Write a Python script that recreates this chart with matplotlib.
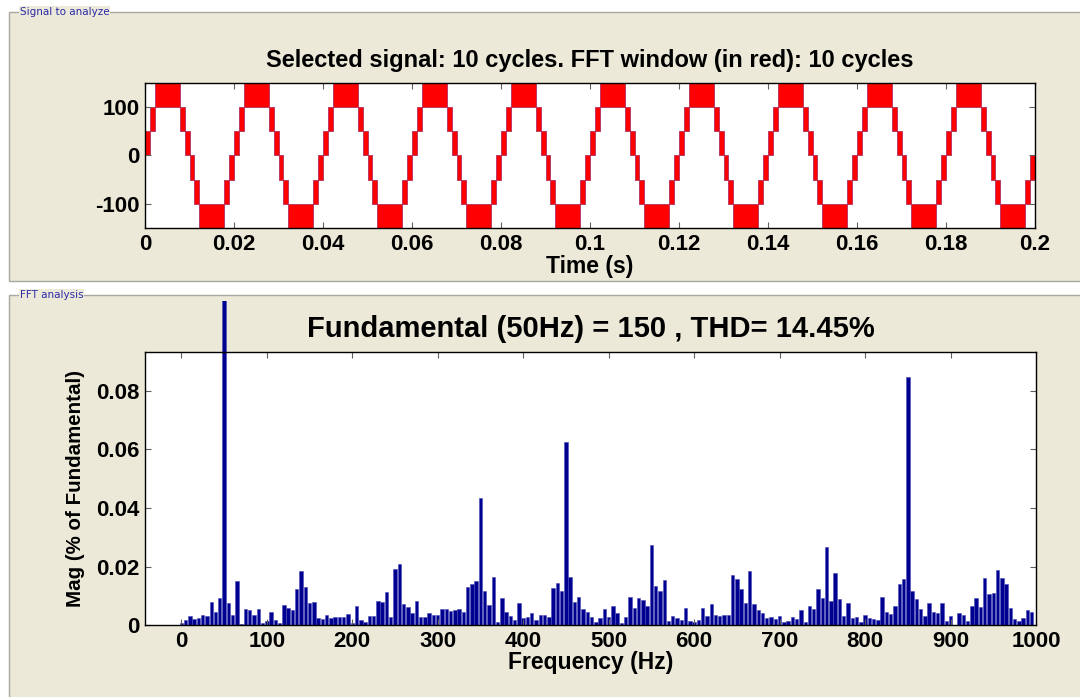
import matplotlib
matplotlib.use('Agg')
import matplotlib.pyplot as plt
from matplotlib.patches import Rectangle
import numpy as np

plt.rcParams['font.family'] = 'Liberation Sans'
plt.rcParams['font.weight'] = 'bold'
plt.rcParams['axes.linewidth'] = 1.0
plt.rcParams['axes.unicode_minus'] = False

W, H = 1080, 697
PANEL_BG = '#ece9d8'
RED = '#ff0000'
NAVY = '#000090'

# --- signal: one cycle of the multilevel PWM envelope (ms), repeated 10 times
n_cycles = 10
cycle_ms = 20.0
seg_start_ms = [0.0, 1.1, 2.2, 7.8, 8.9, 10.0, 11.1, 12.2, 17.8, 18.9]
seg_end_ms = [1.1, 2.2, 7.8, 8.9, 10.0, 11.1, 12.2, 17.8, 18.9, 20.0]
seg_low = [0, 50, 100, 50, 0, -50, -100, -150, -100, -50]
seg_high = [50, 100, 150, 100, 50, 0, -50, -100, -50, 0]

time_ticks = [0, 0.02, 0.04, 0.06, 0.08, 0.1, 0.12, 0.14, 0.16, 0.18, 0.2]
signal_yticks = [-100, 0, 100]

# --- FFT spectrum, % of fundamental, every 5 Hz from 0 to 1000 Hz
freq_step = 5
mag = [
    0.0007, 0.0020, 0.0032, 0.0023, 0.0024, 0.0035, 0.0032, 0.0081, 0.0045, 0.0094,  # 0-45
    100.0, 0.0075, 0.0035, 0.0152, 0.0006, 0.0055, 0.0051, 0.0037, 0.0055, 0.0007,   # 50-95
    0.0015, 0.0045, 0.0018, 0.0008, 0.0070, 0.0060, 0.0052, 0.0124, 0.0185, 0.0130,  # 100-145
    0.0076, 0.0080, 0.0025, 0.0022, 0.0037, 0.0026, 0.0028, 0.0028, 0.0028, 0.0040,  # 150-195
    0.0009, 0.0067, 0.0018, 0.0011, 0.0033, 0.0033, 0.0084, 0.0080, 0.0114, 0.0030,  # 200-245
    0.0193, 0.0211, 0.0073, 0.0062, 0.0041, 0.0082, 0.0030, 0.0030, 0.0041, 0.0035,  # 250-295
    0.0037, 0.0055, 0.0057, 0.0050, 0.0052, 0.0055, 0.0047, 0.0132, 0.0141, 0.0153,  # 300-345
    0.0436, 0.0118, 0.0069, 0.0164, 0.0011, 0.0094, 0.0047, 0.0031, 0.0018, 0.0076,  # 350-395
    0.0026, 0.0030, 0.0041, 0.0020, 0.0037, 0.0037, 0.0030, 0.0127, 0.0143, 0.0117,  # 400-445
    0.0626, 0.0164, 0.0080, 0.0098, 0.0057, 0.0047, 0.0027, 0.0012, 0.0024, 0.0055,  # 450-495
    0.0030, 0.0067, 0.0041, 0.0008, 0.0030, 0.0098, 0.0059, 0.0092, 0.0086, 0.0066,  # 500-545
    0.0275, 0.0134, 0.0118, 0.0156, 0.0015, 0.0031, 0.0025, 0.0019, 0.0059, 0.0015,  # 550-595
    0.0011, 0.0018, 0.0061, 0.0033, 0.0073, 0.0037, 0.0031, 0.0035, 0.0037, 0.0172,  # 600-645
    0.0159, 0.0123, 0.0078, 0.0187, 0.0073, 0.0051, 0.0041, 0.0025, 0.0027, 0.0023,  # 650-695
    0.0031, 0.0012, 0.0015, 0.0027, 0.0023, 0.0051, 0.0011, 0.0065, 0.0057, 0.0123,  # 700-745
    0.0093, 0.0268, 0.0083, 0.0180, 0.0089, 0.0033, 0.0078, 0.0025, 0.0030, 0.0010,  # 750-795
    0.0035, 0.0024, 0.0022, 0.0018, 0.0097, 0.0047, 0.0039, 0.0065, 0.0140, 0.0158,  # 800-845
    0.0848, 0.0118, 0.0091, 0.0056, 0.0033, 0.0078, 0.0044, 0.0041, 0.0075, 0.0015,  # 850-895
    0.0032, 0.0003, 0.0041, 0.0037, 0.0015, 0.0067, 0.0093, 0.0062, 0.0160, 0.0108,  # 900-945
    0.0110, 0.0190, 0.0160, 0.0142, 0.0059, 0.0022, 0.0015, 0.0024, 0.0051, 0.0045,  # 950-995
    0.0,                                                                               # 1000
]
freq_ticks = [0, 100, 200, 300, 400, 500, 600, 700, 800, 900, 1000]
mag_ticks = [0, 0.02, 0.04, 0.06, 0.08]

top_title = 'Selected signal: 10 cycles. FFT window (in red): 10 cycles'
fft_title = 'Fundamental (50Hz) = 150 , THD= 14.45%'


def fx(px):
    return px / W


def fy(py):
    # pixel row from top -> figure fraction from bottom
    return 1 - py / H


fig = plt.figure(figsize=(W / 100, H / 100), dpi=100)
fig.patch.set_facecolor('white')


# group boxes (GUI style panels)
def panel(x0, y0, x1, y1, label):
    fig.add_artist(Rectangle((fx(x0), fy(y1)), fx(x1 - x0), fy(y0) - fy(y1),
                             transform=fig.transFigure, facecolor=PANEL_BG,
                             edgecolor='#a8a8a0', linewidth=1.0, zorder=0))
    fig.text(fx(20), fy(y0), label, fontsize=7.5, fontweight='normal',
             family='DejaVu Sans', color='#2a2aa8', ha='left', va='center',
             bbox=dict(facecolor=PANEL_BG, edgecolor='none', pad=0.5), zorder=1)


panel(9, 12, 1085, 281, 'Signal to analyze')
panel(9, 295, 1085, 705, 'FFT analysis')

# --- top axes: time signal
ax1 = fig.add_axes([fx(145), fy(228), fx(1035 - 145), fy(82.5) - fy(228)])
for c in range(n_cycles):
    off = c * cycle_ms
    for s, e, lo, hi in zip(seg_start_ms, seg_end_ms, seg_low, seg_high):
        ax1.fill_between([(s + off) / 1000, (e + off) / 1000], [lo, lo], [hi, hi],
                         color=RED, linewidth=0.6, edgecolor='#b03060')
ax1.set_xlim(0, 0.2)
ax1.set_ylim(-150, 150)
ax1.set_xticks(time_ticks)
ax1.set_xticklabels(['%g' % t for t in time_ticks])
ax1.set_yticks(signal_yticks)
ax1.set_title(top_title, fontsize=17, fontweight='bold', pad=11)
ax1.set_xlabel('Time (s)', fontsize=16.5, fontweight='bold', labelpad=0)

# --- bottom axes: FFT bars
ax2 = fig.add_axes([fx(145), fy(625.4), fx(1036 - 145), fy(352.3) - fy(625.4)])
freqs = np.arange(len(mag)) * freq_step
bars = ax2.bar(freqs, mag, width=4.0, color=NAVY, edgecolor='#4a4ab8', linewidth=0.4)
# fundamental bar runs out of the axes up to the panel edge
fund = bars[list(freqs).index(50)]
fund.set_clip_path(Rectangle((0, 0), 1, fy(301), transform=fig.transFigure))
ax2.set_xlim(-42.5, 1000)
ax2.set_ylim(0, 0.0931)
ax2.set_xticks(freq_ticks)
ax2.set_yticks(mag_ticks)
ax2.set_yticklabels(['%g' % v for v in mag_ticks])
ax2.set_title(fft_title, fontsize=21, fontweight='bold', pad=11)
ax2.set_xlabel('Frequency (Hz)', fontsize=16.5, fontweight='bold', labelpad=-1)
ax2.set_ylabel('Mag (% of Fundamental)', fontsize=14.8, fontweight='bold', labelpad=8)

for ax in (ax1, ax2):
    ax.set_facecolor('white')
    ax.tick_params(direction='in', length=4, width=0.8, color='#606060',
                   top=True, right=True, labelsize=16, pad=4)
    for lab in ax.get_xticklabels() + ax.get_yticklabels():
        lab.set_fontweight('bold')
    for sp in ax.spines.values():
        sp.set_color('black')
        sp.set_zorder(5)

fig.savefig('out.png', dpi=100, facecolor=fig.get_facecolor())
